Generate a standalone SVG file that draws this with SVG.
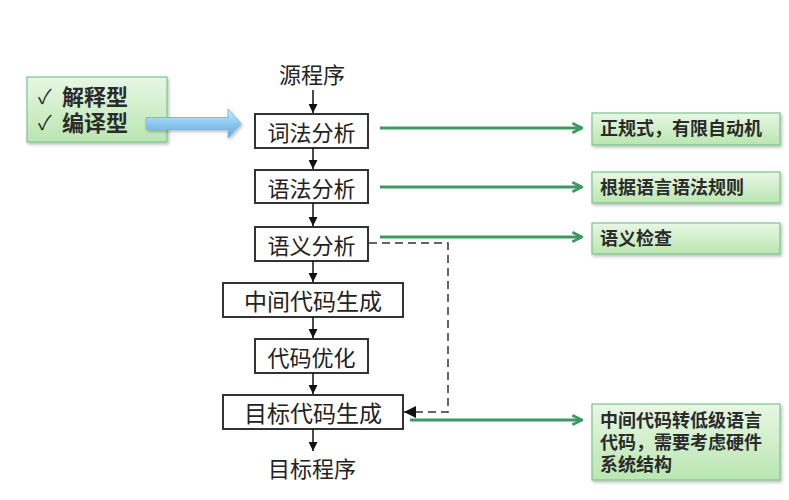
<svg xmlns="http://www.w3.org/2000/svg" width="789" height="500" viewBox="0 0 789 500">
<defs>
<linearGradient id="gg" x1="0" y1="0" x2="0" y2="1">
<stop offset="0" stop-color="#e8f7e4"/>
<stop offset="1" stop-color="#b9e6b0"/>
</linearGradient>
<linearGradient id="bg" x1="0" y1="0" x2="0" y2="1">
<stop offset="0" stop-color="#d4ecfb"/>
<stop offset="0.5" stop-color="#8cc8f0"/>
<stop offset="1" stop-color="#5aa8e0"/>
</linearGradient>
<marker id="blk" viewBox="0 0 10 10" refX="10" refY="5" markerWidth="9" markerHeight="9" markerUnits="userSpaceOnUse" orient="auto">
<path d="M0,0 L10,5 L0,10 z" fill="#111"/>
</marker>
<marker id="blkd" viewBox="0 0 10 10" refX="10" refY="5" markerWidth="14" markerHeight="12" markerUnits="userSpaceOnUse" orient="auto">
<path d="M0,0 L10,5 L0,10 z" fill="#111"/>
</marker>
<marker id="grn" viewBox="0 0 10 10" refX="9" refY="5" markerWidth="12" markerHeight="12" markerUnits="userSpaceOnUse" orient="auto">
<path d="M1,1 L9,5 L1,9" fill="none" stroke="#3c9a60" stroke-width="2.2"/>
</marker>
<filter id="sh" x="-10%" y="-10%" width="130%" height="140%">
<feDropShadow dx="1.5" dy="2" stdDeviation="1.5" flood-color="#000" flood-opacity="0.25"/>
</filter>
</defs>
<style>
.box{fill:#fff;stroke:#333;stroke-width:2}
.mt{font-family:"Noto Sans CJK SC",sans-serif;font-size:22px;fill:#222;text-anchor:middle;dominant-baseline:central}
.gb{fill:url(#gg);stroke:#7cc48a;stroke-width:1.2;filter:url(#sh)}
.gt{font-family:"Liberation Sans","Noto Sans CJK SC",sans-serif;font-weight:bold;font-size:18px;fill:#2b2b2b;dominant-baseline:central}
.lt{font-family:"Liberation Sans","Noto Sans CJK SC",sans-serif;font-weight:bold;font-size:22px;fill:#2b2b2b;dominant-baseline:central}
.ck{font-family:"Liberation Sans","Noto Sans CJK SC",sans-serif;font-size:20px;fill:#2b2b2b;dominant-baseline:central}
.ln{stroke:#111;stroke-width:1.5;fill:none;marker-end:url(#blk)}
.gl{stroke:#3c9a60;stroke-width:3;fill:none;marker-end:url(#grn)}
</style>
<rect width="789" height="500" fill="#fff"/>

<g id="types">
<rect class="gb" x="27" y="77" width="140" height="65"/>
<text class="ck" x="38" y="97">✓</text>
<text class="lt" x="62" y="97">解释型</text>
<text class="ck" x="38" y="123">✓</text>
<text class="lt" x="62" y="123">编译型</text>
</g>
<g id="bluearrow">
<path d="M146,117.5 L228,117.5 L228,109 L241,123.5 L228,138 L228,129.5 L146,129.5 z" fill="url(#bg)" stroke="#7fb9e3" stroke-width="1" filter="url(#sh)"/>
</g>

<g id="src"><text class="mt" x="312" y="73">源程序</text></g>
<g id="n1"><rect class="box" x="255" y="114" width="113" height="34"/><text class="mt" x="311.5" y="131">词法分析</text></g>
<g id="n2"><rect class="box" x="255" y="170" width="113" height="33"/><text class="mt" x="311.5" y="186.5">语法分析</text></g>
<g id="n3"><rect class="box" x="255" y="227" width="113" height="34"/><text class="mt" x="311.5" y="244">语义分析</text></g>
<g id="n4"><rect class="box" x="223" y="283" width="180" height="34"/><text class="mt" x="313" y="300" style="font-size:23px">中间代码生成</text></g>
<g id="n5"><rect class="box" x="255" y="339" width="113" height="34"/><text class="mt" x="311.5" y="356">代码优化</text></g>
<g id="n6"><rect class="box" x="223" y="395" width="180" height="34"/><text class="mt" x="313" y="412" style="font-size:23px">目标代码生成</text></g>
<g id="dst"><text class="mt" x="312" y="467">目标程序</text></g>

<g id="r1"><rect class="gb" x="592" y="113" width="188" height="32"/><text class="gt" x="600" y="129">正规式，有限自动机</text></g>
<g id="r2"><rect class="gb" x="592" y="172" width="188" height="31"/><text class="gt" x="600" y="187.5">根据语言语法规则</text></g>
<g id="r3"><rect class="gb" x="592" y="223" width="188" height="31"/><text class="gt" x="600" y="238.5">语义检查</text></g>
<g id="r4"><rect class="gb" x="592" y="404" width="188" height="76"/>
<text class="gt" x="600" y="421">中间代码转低级语言</text>
<text class="gt" x="600" y="443">代码，需要考虑硬件</text>
<text class="gt" x="600" y="465">系统结构</text></g>

<g id="connectors">
<line class="ln" x1="313" y1="90" x2="313" y2="113"/>
<line class="ln" x1="313" y1="148" x2="313" y2="169"/>
<line class="ln" x1="313" y1="203" x2="313" y2="226"/>
<line class="ln" x1="313" y1="261" x2="313" y2="282"/>
<line class="ln" x1="313" y1="317" x2="313" y2="338"/>
<line class="ln" x1="313" y1="373" x2="313" y2="394"/>
<line class="ln" x1="313" y1="429" x2="313" y2="451"/>
<path d="M369,243 L448,243 L448,412 L404,412" stroke="#333" stroke-width="1.5" fill="none" stroke-dasharray="8,5" marker-end="url(#blkd)"/>
<line class="gl" x1="380" y1="128" x2="582" y2="128"/>
<line class="gl" x1="380" y1="187" x2="582" y2="187"/>
<line class="gl" x1="380" y1="237" x2="582" y2="237"/>
<line class="gl" x1="410" y1="420" x2="582" y2="420"/>
</g>
</svg>
